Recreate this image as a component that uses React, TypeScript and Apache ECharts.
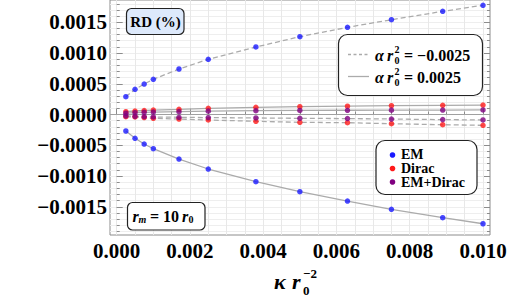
import React, { useEffect, useRef } from "react";
import * as echarts from "echarts";

// ---- data ----
const kappa = [0.00025, 0.0005, 0.00075, 0.001, 0.0017, 0.0025, 0.0038, 0.005, 0.0063, 0.0075, 0.0089, 0.01];
// alpha r0^2 = -0.0025 (dashed)
const emNeg = [0.000289, 0.00041, 0.000496, 0.000572, 0.00074, 0.000898, 0.001098, 0.001265, 0.001418, 0.001541, 0.001678, 0.001776];
const diracNeg = [-0.000036, -0.00004, -0.000049, -0.000062, -0.000073, -0.000089, -0.00011, -0.000127, -0.000133, -0.00015, -0.000166, -0.000176];
const bothNeg = [-0.000022, -0.00003, -0.000035, -0.00004, -0.000045, -0.00005, -0.000056, -0.000062, -0.000066, -0.000073, -0.000083, -0.000089];
// alpha r0^2 = +0.0025 (solid)
const emPos = [-0.000268, -0.000387, -0.00048, -0.000556, -0.000724, -0.000886, -0.001093, -0.001255, -0.001407, -0.001541, -0.001678, -0.001776];
const diracPos = [0.000046, 0.000057, 0.000065, 0.000073, 0.000085, 0.000101, 0.000117, 0.000127, 0.000135, 0.000143, 0.00015, 0.000154];
const bothPos = [0.000022, 0.00003, 0.000035, 0.00004, 0.000047, 0.000055, 0.000062, 0.000066, 0.000069, 0.000071, 0.000073, 0.000075];

const xTickLabels = [0, 0.002, 0.004, 0.006, 0.008, 0.01];
const yTickLabels = [-0.0015, -0.001, -0.0005, 0, 0.0005, 0.001, 0.0015];

const X_MIN = -0.000183;
const X_MAX = 0.010191;
const Y_MIN = -0.001959;
const Y_MAX = 0.001862;

const xMinor: number[] = [];
for (let i = 0; i <= 20; i++) xMinor.push(Math.round(i * 5) / 10000);
const yMinor: number[] = [];
for (let i = -19; i <= 18; i++) yMinor.push(i / 10000);

const SERIF = "'Liberation Serif', 'Times New Roman', serif";
const BLUE = "#1a1aff";
const RED = "#ff1a1a";
const PURPLE = "#800080";
const LINE_GRAY = "#ababab";
const FRAME = "#8c8c8c";

const pairs = (ys: number[]) => kappa.map((x, i) => [x, ys[i]]);

function lineSeries(ys: number[], dashed: boolean, extra: any = {}) {
  return {
    type: "line",
    data: pairs(ys),
    smooth: false,
    symbol: "none",
    silent: true,
    z: 2,
    lineStyle: { color: LINE_GRAY, width: 1.3, type: dashed ? [5, 3] : "solid" },
    ...extra,
  };
}
function dotSeries(ys: number[], color: string, z: number) {
  return {
    type: "scatter",
    data: pairs(ys),
    symbolSize: 5.5,
    itemStyle: { color },
    z,
  };
}

function txt(x: number, y: number, text: string, size: number, opts: any = {}) {
  return {
    type: "text",
    x,
    y,
    z: 20,
    style: {
      text,
      fontFamily: SERIF,
      fontSize: size,
      fontWeight: "bold",
      fontStyle: opts.italic ? "italic" : "normal",
      fill: "#000",
      align: opts.align || "left",
      verticalAlign: "middle",
      lineHeight: opts.lh || Math.round(size * 0.9),
    },
  };
}

export default function App() {
  const ref = useRef<HTMLDivElement>(null);
  useEffect(() => {
    if (!ref.current) return;
    const chart = echarts.init(ref.current, null, { renderer: "svg" });
    const yFmt = (v: number) => {
      const s = Math.abs(v).toFixed(4);
      return v < -1e-12 ? "\u2212" + s : s;
    };
    const yAxisBase = { type: "value", min: Y_MIN, max: Y_MAX, axisLine: { show: false } };
    const xAxisBase = { type: "value", min: X_MIN, max: X_MAX, axisLine: { show: false } };
    chart.setOption({
      animation: false,
      backgroundColor: "#fff",
      grid: {
        left: 110,
        right: 18,
        top: 0,
        bottom: 64,
        show: true,
        borderColor: FRAME,
        borderWidth: 1,
        backgroundColor: "#fff",
        outerBoundsMode: "none",
      },
      xAxis: [
        {
          ...xAxisBase,
          position: "bottom",
          axisTick: { inside: true, length: 6, customValues: xTickLabels, lineStyle: { color: FRAME } },
          axisLabel: {
            customValues: xTickLabels,
            formatter: (v: number) => v.toFixed(3),
            fontFamily: SERIF,
            fontWeight: "bold",
            fontSize: 21,
            color: "#000",
            margin: 5,
          },
          splitLine: { show: false },
        },
        {
          ...xAxisBase,
          position: "bottom",
          axisTick: { inside: true, length: 3, customValues: xMinor, lineStyle: { color: FRAME } },
          axisLabel: { show: false },
          splitLine: { show: true, lineStyle: { color: "#e8e8e8", width: 1 } },
        },
      ],
      yAxis: [
        {
          ...yAxisBase,
          position: "left",
          axisTick: { inside: true, length: 6, customValues: yTickLabels, lineStyle: { color: FRAME } },
          axisLabel: {
            customValues: yTickLabels,
            formatter: yFmt,
            fontFamily: SERIF,
            fontWeight: "bold",
            fontSize: 21,
            color: "#000",
            margin: 3,
          },
          splitLine: { show: false },
        },
        {
          ...yAxisBase,
          position: "left",
          axisTick: { inside: true, length: 3, customValues: yMinor, lineStyle: { color: FRAME } },
          axisLabel: { show: false },
          splitLine: { show: true, lineStyle: { color: "#eeeeee", width: 1 } },
        },
        {
          ...yAxisBase,
          position: "right",
          axisTick: { inside: true, length: 6, customValues: yTickLabels, lineStyle: { color: FRAME } },
          axisLabel: { show: false },
          splitLine: { show: false },
        },
        {
          ...yAxisBase,
          position: "right",
          axisTick: { inside: true, length: 3, customValues: yMinor, lineStyle: { color: FRAME } },
          axisLabel: { show: false },
          splitLine: { show: false },
        },
      ],
      series: [
        lineSeries(emNeg, true, {
          markLine: {
            symbol: "none",
            silent: true,
            label: { show: false },
            lineStyle: { color: "#a0a0a0", width: 1, type: "solid" },
            data: [{ yAxis: 0 }],
          },
        }),
        lineSeries(diracNeg, true),
        lineSeries(bothNeg, true),
        lineSeries(emPos, false),
        lineSeries(diracPos, false),
        lineSeries(bothPos, false),
        dotSeries(diracNeg, RED, 4),
        dotSeries(diracPos, RED, 4),
        dotSeries(bothNeg, PURPLE, 5),
        dotSeries(bothPos, PURPLE, 5),
        dotSeries(emNeg, BLUE, 5),
        dotSeries(emPos, BLUE, 5),
      ],
      graphic: [
        // RD (%) box
        {
          type: "rect",
          z: 19,
          shape: { x: 126.5, y: 8.5, width: 57.5, height: 26, r: 5 },
          style: { fill: "#dde9fb", stroke: "#222", lineWidth: 1.2 },
        },
        txt(155.5, 21.5, "RD (%)", 15, { align: "center" }),
        // alpha legend
        {
          type: "rect",
          z: 19,
          shape: { x: 338.5, y: 34.5, width: 144, height: 61, r: 9 },
          style: { fill: "#fff", stroke: "#222", lineWidth: 1.2 },
        },
        {
          type: "line",
          z: 20,
          shape: { x1: 348, y1: 54.5, x2: 369, y2: 54.5 },
          style: { stroke: LINE_GRAY, lineWidth: 1.3, lineDash: [3, 2.5] },
        },
        {
          type: "line",
          z: 20,
          shape: { x1: 348, y1: 76.5, x2: 369, y2: 76.5 },
          style: { stroke: LINE_GRAY, lineWidth: 1.3 },
        },
        txt(375, 55, "\u03b1", 16, { italic: true }),
        txt(387, 55, "r", 16, { italic: true }),
        txt(394.5, 49.5, "2", 10),
        txt(394.5, 60.5, "0", 10),
        txt(404, 55, "= \u22120.0025", 16),
        txt(375, 77, "\u03b1", 16, { italic: true }),
        txt(387, 77, "r", 16, { italic: true }),
        txt(394.5, 71.5, "2", 10),
        txt(394.5, 82.5, "0", 10),
        txt(404, 77, "= 0.0025", 16),
        // marker legend
        {
          type: "rect",
          z: 19,
          shape: { x: 376, y: 140.5, width: 101, height: 54, r: 9 },
          style: { fill: "#fff", stroke: "#222", lineWidth: 1.2 },
        },
        { type: "circle", z: 20, shape: { cx: 392.5, cy: 155, r: 2.8 }, style: { fill: BLUE } },
        { type: "circle", z: 20, shape: { cx: 392.5, cy: 168.5, r: 2.8 }, style: { fill: RED } },
        { type: "circle", z: 20, shape: { cx: 392.5, cy: 182, r: 2.8 }, style: { fill: PURPLE } },
        txt(401, 154.5, "EM", 14, { lh: 12 }),
        txt(401, 168.5, "Dirac", 14, { lh: 12 }),
        txt(401, 182.5, "EM+Dirac", 14, { lh: 12 }),
        // r_m box
        {
          type: "rect",
          z: 19,
          shape: { x: 127.5, y: 202.5, width: 77.5, height: 27.5, r: 5 },
          style: { fill: "#fff", stroke: "#222", lineWidth: 1.2 },
        },
        txt(132.5, 216, "r", 16, { italic: true }),
        txt(138.5, 219.5, "m", 10, { italic: true }),
        txt(150, 216.5, "= 10", 16),
        txt(182, 216, "r", 16, { italic: true }),
        txt(188.5, 219.5, "0", 10),
        // x axis title
        txt(274, 281.5, "\u03ba", 22, { italic: true }),
        txt(292, 281.5, "r", 22, { italic: true }),
        txt(303, 273.5, "\u22122", 13),
        txt(303, 290.5, "0", 13),
      ],
    });
    return () => chart.dispose();
  }, []);
  return <div ref={ref} style={{ position: "fixed", left: 0, top: 0, width: 508, height: 299 }} />;
}
